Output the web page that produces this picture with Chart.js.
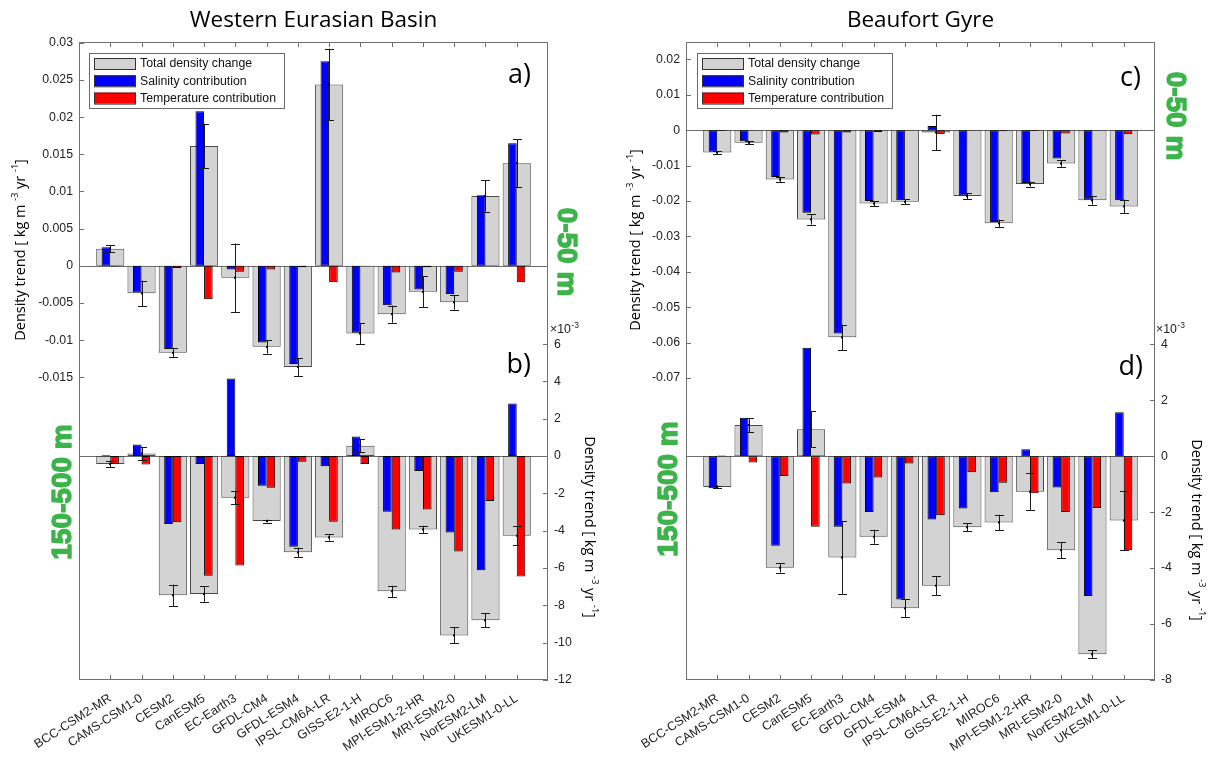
<!DOCTYPE html>
<html><head><meta charset="utf-8">
<script src="https://cdn.jsdelivr.net/npm/chart.js@4.4.0/dist/chart.umd.min.js"></script>
<style>
html,body{margin:0;padding:0;background:#fff;}
#wrap{position:relative;width:1214px;height:762px;overflow:hidden;background:#fff;}
.box{position:absolute;top:0;width:607px;height:762px;}
</style></head><body>
<div id="wrap">
<div class="box" style="left:0"><canvas id="cL" width="607" height="762"></canvas></div>
<div class="box" style="left:607px"><canvas id="cR" width="607" height="762"></canvas></div>
</div>
<script>
// ---------------- DATA ----------------
const models = ['BCC-CSM2-MR','CAMS-CSM1-0','CESM2','CanESM5','EC-Earth3','GFDL-CM4','GFDL-ESM4',
  'IPSL-CM6A-LR','GISS-E2-1-H','MIROC6','MPI-ESM1-2-HR','MRI-ESM2-0','NorESM2-LM','UKESM1-0-LL'];

// Western Eurasian Basin, 0-50 m  [kg m-3 yr-1]
const web_top_total = [0.0023,-0.0037,-0.0117,0.0161,-0.0016,-0.0109,-0.0136,0.0244,-0.0091,-0.0065,-0.0035,-0.0049,0.0094,0.0138];
const web_top_sal   = [0.0025,-0.0036,-0.0112,0.0208,-0.0005,-0.0103,-0.0132,0.0275,-0.0090,-0.0053,-0.0032,-0.0038,0.0095,0.0165];
const web_top_temp  = [-0.0001,0.0000,-0.0003,-0.0045,-0.0008,-0.0005,-0.0002,-0.0022,-0.00005,-0.0009,-0.0002,-0.0008,0.0000,-0.0022];
const web_top_err   = [0.0005,0.0017,0.0006,0.0030,0.0046,0.0009,0.0012,0.0048,0.0014,0.00115,0.0021,0.0010,0.0021,0.0032];
// Western Eurasian Basin, 150-500 m  [x10^-3 kg m-3 yr-1]
const web_deep_total = [-0.42,0.14,-7.46,-7.39,-2.23,-3.48,-5.16,-4.36,0.55,-7.25,-3.93,-9.61,-8.80,-4.27];
const web_deep_sal   = [0.05,0.62,-3.64,-0.43,4.16,-1.59,-4.86,-0.54,1.05,-2.98,-0.80,-4.09,-6.12,2.82];
const web_deep_temp  = [-0.43,-0.45,-3.54,-6.41,-5.87,-1.70,-0.30,-3.52,-0.43,-3.93,-2.86,-5.11,-2.41,-6.46];
const web_deep_err   = [0.18,0.36,0.57,0.42,0.35,0.08,0.26,0.17,0.35,0.30,0.19,0.43,0.38,0.50];

// Beaufort Gyre, 0-50 m  [kg m-3 yr-1]
const bg_top_total = [-0.0063,-0.0035,-0.0139,-0.0252,-0.0585,-0.0207,-0.0202,-0.0006,-0.0186,-0.0263,-0.0152,-0.0094,-0.0198,-0.0215];
const bg_top_sal   = [-0.0061,-0.0031,-0.0132,-0.0233,-0.0574,-0.0200,-0.0198,0.0012,-0.0184,-0.0259,-0.0149,-0.0080,-0.0196,-0.0198];
const bg_top_temp  = [-0.0002,-0.0001,-0.0006,-0.0012,-0.0006,-0.0005,-0.0001,-0.0011,-0.0001,-0.0003,-0.0002,-0.0009,-0.0001,-0.0011];
const bg_top_err   = [0.00035,0.00045,0.0007,0.00145,0.0036,0.0007,0.00065,0.0050,0.0008,0.00105,0.0007,0.0009,0.0012,0.0019];
// Beaufort Gyre, 150-500 m  [x10^-3 kg m-3 yr-1]
const bg_deep_total = [-1.10,1.11,-3.99,0.96,-3.62,-2.88,-5.44,-4.63,-2.54,-2.37,-1.27,-3.36,-7.08,-2.30];
const bg_deep_sal   = [-1.15,1.37,-3.20,3.87,-2.52,-2.00,-5.12,-2.26,-1.87,-1.29,0.25,-1.12,-5.00,1.57];
const bg_deep_temp  = [0.02,-0.23,-0.71,-2.52,-0.98,-0.76,-0.26,-2.11,-0.58,-0.95,-1.33,-2.00,-1.85,-3.36];
const bg_deep_err   = [0.05,0.25,0.17,0.65,1.30,0.25,0.32,0.33,0.14,0.28,0.65,0.28,0.14,1.07];

// Tick labels
const web_top_ticks  = [0.03,0.025,0.02,0.015,0.01,0.005,0,-0.005,-0.01,-0.015];
const web_deep_ticks = [6,4,2,0,-2,-4,-6,-8,-10,-12];
const bg_top_ticks   = [0.02,0.01,0,-0.01,-0.02,-0.03,-0.04,-0.05,-0.06,-0.07];
const bg_deep_ticks  = [4,2,0,-2,-4,-6,-8];

const seriesNames = ['Total density change','Salinity contribution','Temperature contribution'];

// ---------------- STYLE ----------------
const C_GRAY = '#d3d3d3', C_BLUE = '#0000ff', C_RED = '#ff0000', C_GREEN = '#3cb44a';
const TICK_FONT = '"Liberation Sans", Arial, sans-serif';
const TEXT_FONT = '"Open Sans", "Liberation Sans", sans-serif';
const AXIS_COLOR = '#707070';
Chart.defaults.font.family = TICK_FONT;

const pad = a => [null, ...a, null];
const catLabels = ['', ...models, ''];

function richText(ctx, segs, x, y, ang, size, family, color) {
  ctx.save(); ctx.translate(x, y); ctx.rotate(ang);
  ctx.fillStyle = color; ctx.textBaseline = 'middle'; ctx.textAlign = 'left';
  let total = 0;
  segs.forEach(s => { ctx.font = (s.sup ? size * 0.62 : size) + 'px ' + family; s.w = ctx.measureText(s.t).width; total += s.w; });
  let cx = -total / 2;
  segs.forEach(s => { ctx.font = (s.sup ? size * 0.62 : size) + 'px ' + family; ctx.fillText(s.t, cx, s.sup ? -size * 0.38 : 0); cx += s.w; });
  ctx.restore();
}
function rotText(ctx, txt, x, y, ang, font, color, strokeW) {
  ctx.save(); ctx.translate(x, y); ctx.rotate(ang); ctx.font = font; ctx.fillStyle = color;
  ctx.textAlign = 'center'; ctx.textBaseline = 'middle'; ctx.fillText(txt, 0, 0);
  if (strokeW) { ctx.strokeStyle = color; ctx.lineWidth = strokeW; ctx.lineJoin = 'round'; ctx.strokeText(txt, 0, 0); }
  ctx.restore();
}
const yTitleSegs = () => [{t:'Density trend [ kg m '},{t:'-3',sup:1},{t:' yr '},{t:'-1',sup:1},{t:']'}];

const decor = {
  id: 'decor',
  beforeDatasetsDraw(chart) {
    const {ctx, chartArea: a, scales} = chart;
    ctx.save();
    ctx.strokeStyle = '#6a6a6a'; ctx.lineWidth = 1;
    ['y','y2'].forEach(id => {
      const py = Math.round(scales[id].getPixelForValue(0)) + 0.5;
      ctx.beginPath(); ctx.moveTo(a.left, py); ctx.lineTo(a.right, py); ctx.stroke();
    });
    ctx.restore();
  },
  afterDatasetsDraw(chart, args, o) {
    const {ctx, scales} = chart;
    const x = scales.x;
    ctx.save();
    ctx.strokeStyle = '#1a1a1a'; ctx.fillStyle = '#000'; ctx.lineWidth = 1;
    [[o.top, scales.y], [o.deep, scales.y2]].forEach(([grp, ys]) => {
      const tot = grp[0], err = grp[3];
      tot.forEach((v, i) => {
        const px = Math.round(x.getPixelForValue(i + 1)) + 0.5;
        const yc = ys.getPixelForValue(v), y1 = ys.getPixelForValue(v + err[i]), y2 = ys.getPixelForValue(v - err[i]);
        ctx.beginPath();
        ctx.moveTo(px, y1); ctx.lineTo(px, y2);
        ctx.moveTo(px - 4.5, Math.round(y1) + 0.5); ctx.lineTo(px + 4.5, Math.round(y1) + 0.5);
        ctx.moveTo(px - 4.5, Math.round(y2) + 0.5); ctx.lineTo(px + 4.5, Math.round(y2) + 0.5);
        ctx.stroke();
        ctx.fillRect(px - 1.5, yc - 1, 2, 2);
      });
    });
    ctx.restore();
  },
  afterDraw(chart, args, o) {
    const {ctx, chartArea: a, scales} = chart;
    ctx.save();
    // box
    ctx.strokeStyle = AXIS_COLOR; ctx.lineWidth = 1;
    ctx.strokeRect(Math.round(a.left) + 0.5, Math.round(a.top) + 0.5, Math.round(a.right - a.left) - 1, Math.round(a.bottom - a.top) - 1);
    // inward ticks
    ctx.beginPath();
    for (let i = 1; i <= models.length; i++) {
      const px = Math.round(scales.x.getPixelForValue(i)) + 0.5;
      ctx.moveTo(px, a.bottom); ctx.lineTo(px, a.bottom - 5);
      ctx.moveTo(px, a.top); ctx.lineTo(px, a.top + 5);
    }
    scales.y.ticks.forEach(t => { const py = Math.round(scales.y.getPixelForValue(t.value)) + 0.5; ctx.moveTo(a.left, py); ctx.lineTo(a.left + 5, py); });
    scales.y2.ticks.forEach(t => { const py = Math.round(scales.y2.getPixelForValue(t.value)) + 0.5; ctx.moveTo(a.right, py); ctx.lineTo(a.right - 5, py); });
    ctx.stroke();

    // legend
    const L = o.legend;
    ctx.fillStyle = '#fff'; ctx.fillRect(L.x, L.y, L.w, L.h);
    ctx.strokeStyle = '#6a6a6a'; ctx.strokeRect(L.x + 0.5, L.y + 0.5, L.w, L.h);
    const cols = [C_GRAY, C_BLUE, C_RED];
    seriesNames.forEach((n, i) => {
      const cy = L.y + 10.5 + i * 17.3;
      ctx.fillStyle = cols[i]; ctx.fillRect(L.x + 5, cy - 5.5, 42, 11);
      ctx.strokeStyle = '#333'; ctx.strokeRect(L.x + 5.5, cy - 5, 41, 11);
      ctx.fillStyle = '#111'; ctx.font = '12.3px ' + TICK_FONT; ctx.textAlign = 'left'; ctx.textBaseline = 'middle';
      ctx.fillText(n, L.x + 51, cy + 0.5);
    });

    // title
    ctx.fillStyle = '#000'; ctx.font = '22.5px ' + TEXT_FONT; ctx.textAlign = 'center'; ctx.textBaseline = 'alphabetic';
    ctx.fillText(o.title, (a.left + a.right) / 2, 27);
    // panel letters
    ctx.font = '27px ' + TEXT_FONT; ctx.textAlign = 'right';
    ctx.fillText(o.letters[0].t, o.letters[0].x, o.letters[0].y);
    ctx.fillText(o.letters[1].t, o.letters[1].x, o.letters[1].y);
    // x10^-3
    ctx.textAlign = 'left'; ctx.font = '12.3px ' + TICK_FONT; ctx.fillStyle = '#222';
    ctx.fillText('\u00d710', o.exp.x, o.exp.y);
    const w = ctx.measureText('\u00d710').width;
    ctx.font = '8.5px ' + TICK_FONT; ctx.fillText('-3', o.exp.x + w + 0.5, o.exp.y - 5);
    // green depth labels
    rotText(ctx, '0-50 m', o.g1.x, o.g1.y, Math.PI / 2, 'bold 28px ' + TICK_FONT, C_GREEN, 1.4);
    rotText(ctx, '150-500 m', o.g2.x, o.g2.y, -Math.PI / 2, 'bold 28px ' + TICK_FONT, C_GREEN, 1.4);
    // axis titles
    richText(ctx, yTitleSegs(), o.t1.x, o.t1.y, -Math.PI / 2, 14.5, TEXT_FONT, '#000');
    richText(ctx, yTitleSegs(), o.t2.x, o.t2.y, Math.PI / 2, 14.5, TEXT_FONT, '#000');
    ctx.restore();
  }
};

function fmt(v) { return String(Math.round(v * 1000) / 1000); }

function makeChart(id, cfg) {
  const mk = (label, data, color, border, axis, extra) => Object.assign({
    label, data: pad(data), backgroundColor: color, borderColor: border, borderWidth: 1,
    borderSkipped: false, yAxisID: axis
  }, extra);
  const grayOpts = {grouped: false, categoryPercentage: 0.9, barPercentage: 1.0, order: 2};
  const sOpts = {stack: 'S', categoryPercentage: 0.55, barPercentage: 1.0, order: 1};
  const tOpts = {stack: 'T', categoryPercentage: 0.55, barPercentage: 1.0, order: 1};
  return new Chart(document.getElementById(id), {
    type: 'bar',
    data: {
      labels: catLabels,
      datasets: [
        mk(seriesNames[0], cfg.top[0], C_GRAY, '#4a4a4a', 'y', grayOpts),
        mk(seriesNames[1], cfg.top[1], C_BLUE, '#000', 'y', sOpts),
        mk(seriesNames[2], cfg.top[2], C_RED, '#000', 'y', tOpts),
        mk(seriesNames[0] + ' (150-500 m)', cfg.deep[0], C_GRAY, '#4a4a4a', 'y2', grayOpts),
        mk(seriesNames[1] + ' (150-500 m)', cfg.deep[1], C_BLUE, '#000', 'y2', sOpts),
        mk(seriesNames[2] + ' (150-500 m)', cfg.deep[2], C_RED, '#000', 'y2', tOpts)
      ]
    },
    options: {
      responsive: false, animation: false, devicePixelRatio: 1,
      layout: {padding: {top: 42, left: 0, right: 0, bottom: 0}},
      plugins: {legend: {display: false}, tooltip: {enabled: false}, decor: cfg},
      scales: {
        x: {
          type: 'category', offset: false,
          grid: {display: false, drawTicks: false, offset: false}, border: {display: false},
          ticks: {autoSkip: false, minRotation: 33, maxRotation: 33, padding: 11, color: '#222', font: {size: 12.5}},
          afterFit(s) { s.height = 82; }
        },
        y: {
          type: 'linear', position: 'left', min: cfg.yMin, max: cfg.yMax, stacked: false,
          grid: {display: false, drawTicks: false}, border: {display: false},
          ticks: {padding: 6, color: '#222', font: {size: 12.3}, callback: v => fmt(v)},
          afterBuildTicks(s) { s.ticks = cfg.yTicks.map(v => ({value: v})); },
          afterFit(s) { s.width = 79; }
        },
        y2: {
          type: 'linear', position: 'right', min: cfg.y2Min, max: cfg.y2Max, stacked: false,
          grid: {display: false, drawTicks: false}, border: {display: false},
          ticks: {padding: 6, color: '#222', font: {size: 12.3}, callback: v => fmt(v)},
          afterBuildTicks(s) { s.ticks = cfg.y2Ticks.map(v => ({value: v})); },
          afterFit(s) { s.width = 59; }
        }
      }
    },
    plugins: [decor]
  });
}

makeChart('cL', {
  title: 'Western Eurasian Basin',
  top: [web_top_total, web_top_sal, web_top_temp, web_top_err],
  deep: [web_deep_total, web_deep_sal, web_deep_temp, web_deep_err],
  yMin: -0.0557, yMax: 0.0301, yTicks: web_top_ticks,
  y2Min: -12, y2Max: 22.19, y2Ticks: web_deep_ticks,
  legend: {x: 89, y: 53, w: 195, h: 55},
  letters: [{t: 'a)', x: 531, y: 83}, {t: 'b)', x: 531, y: 373}],
  exp: {x: 550, y: 333},
  g1: {x: 566, y: 252}, g2: {x: 63, y: 492},
  t1: {x: 21, y: 250}, t2: {x: 589, y: 527}
});
makeChart('cR', {
  title: 'Beaufort Gyre',
  top: [bg_top_total, bg_top_sal, bg_top_temp, bg_top_err],
  deep: [bg_deep_total, bg_deep_sal, bg_deep_temp, bg_deep_err],
  yMin: -0.15528, yMax: 0.02493, yTicks: bg_top_ticks,
  y2Min: -8, y2Max: 14.8, y2Ticks: bg_deep_ticks,
  legend: {x: 90, y: 53, w: 195, h: 55},
  letters: [{t: 'c)', x: 534, y: 86}, {t: 'd)', x: 536, y: 375}],
  exp: {x: 549, y: 333},
  g1: {x: 568, y: 116}, g2: {x: 62, y: 489},
  t1: {x: 29, y: 240}, t2: {x: 589, y: 530}
});
</script>
</body></html>
